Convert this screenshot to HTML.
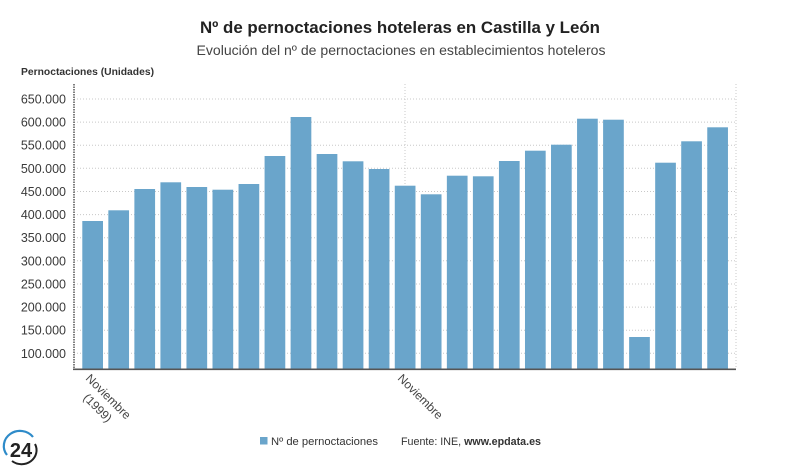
<!DOCTYPE html>
<html><head><meta charset="utf-8"><style>
html,body{margin:0;padding:0;background:#fff;}
svg{display:block;}
text{font-family:"Liberation Sans",Arial,sans-serif;}
</style></head><body>
<svg width="800" height="470" viewBox="0 0 800 470" xmlns="http://www.w3.org/2000/svg">
<rect width="800" height="470" fill="#fff"/>
<text x="400" y="33" text-anchor="middle" font-size="16.5" font-weight="bold" fill="#222" textLength="400" lengthAdjust="spacingAndGlyphs">Nº de pernoctaciones hoteleras en Castilla y León</text>
<text x="401" y="55" text-anchor="middle" font-size="13.5" fill="#444" textLength="409" lengthAdjust="spacingAndGlyphs">Evolución del nº de pernoctaciones en establecimientos hoteleros</text>
<text x="21" y="75" font-size="10" font-weight="bold" fill="#333" textLength="133" lengthAdjust="spacingAndGlyphs">Pernoctaciones (Unidades)</text>
<g stroke="#c8c8c8" stroke-width="1" stroke-dasharray="1,2">
<line x1="74" x2="736" y1="99" y2="99"/>
<line x1="74" x2="736" y1="122.1" y2="122.1"/>
<line x1="74" x2="736" y1="145.2" y2="145.2"/>
<line x1="74" x2="736" y1="168.3" y2="168.3"/>
<line x1="74" x2="736" y1="191.5" y2="191.5"/>
<line x1="74" x2="736" y1="214.6" y2="214.6"/>
<line x1="74" x2="736" y1="237.7" y2="237.7"/>
<line x1="74" x2="736" y1="260.8" y2="260.8"/>
<line x1="74" x2="736" y1="284" y2="284"/>
<line x1="74" x2="736" y1="307.1" y2="307.1"/>
<line x1="74" x2="736" y1="330.2" y2="330.2"/>
<line x1="74" x2="736" y1="353.3" y2="353.3"/>
<line x1="405" x2="405" y1="84" y2="369"/>
<line x1="736" x2="736" y1="84" y2="369"/>
</g>
<g font-size="12.5" fill="#3a3a3a" text-anchor="end">
<text x="66" y="103.5">650.000</text>
<text x="66" y="126.6">600.000</text>
<text x="66" y="149.7">550.000</text>
<text x="66" y="172.8">500.000</text>
<text x="66" y="196">450.000</text>
<text x="66" y="219.1">400.000</text>
<text x="66" y="242.2">350.000</text>
<text x="66" y="265.3">300.000</text>
<text x="66" y="288.5">250.000</text>
<text x="66" y="311.6">200.000</text>
<text x="66" y="334.7">150.000</text>
<text x="66" y="357.8">100.000</text>
</g>
<g fill="#6aa5cb">
<rect x="82.3" y="221" width="20.7" height="148"/>
<rect x="108.34" y="210.3" width="20.7" height="158.7"/>
<rect x="134.38" y="189" width="20.7" height="180"/>
<rect x="160.42" y="182.3" width="20.7" height="186.7"/>
<rect x="186.46" y="187" width="20.7" height="182"/>
<rect x="212.5" y="189.7" width="20.7" height="179.3"/>
<rect x="238.54" y="184" width="20.7" height="185"/>
<rect x="264.58" y="156" width="20.7" height="213"/>
<rect x="290.62" y="117" width="20.7" height="252"/>
<rect x="316.66" y="154" width="20.7" height="215"/>
<rect x="342.7" y="161.3" width="20.7" height="207.7"/>
<rect x="368.74" y="169" width="20.7" height="200"/>
<rect x="394.78" y="185.7" width="20.7" height="183.3"/>
<rect x="420.82" y="194.3" width="20.7" height="174.7"/>
<rect x="446.86" y="175.7" width="20.7" height="193.3"/>
<rect x="472.9" y="176.3" width="20.7" height="192.7"/>
<rect x="498.94" y="161" width="20.7" height="208"/>
<rect x="524.98" y="150.7" width="20.7" height="218.3"/>
<rect x="551.02" y="144.7" width="20.7" height="224.3"/>
<rect x="577.06" y="118.7" width="20.7" height="250.3"/>
<rect x="603.1" y="119.7" width="20.7" height="249.3"/>
<rect x="629.14" y="337" width="20.7" height="32"/>
<rect x="655.18" y="162.7" width="20.7" height="206.3"/>
<rect x="681.22" y="141.3" width="20.7" height="227.7"/>
<rect x="707.26" y="127.3" width="20.7" height="241.7"/>
</g>
<line x1="74" x2="74" y1="84" y2="369" stroke="#555" stroke-width="1.5" stroke-dasharray="1.5,1"/>
<line x1="73" x2="736" y1="369.3" y2="369.3" stroke="#555" stroke-width="1.6"/>
<g font-size="12" fill="#444">
<g transform="translate(85,379) rotate(45)">
<text x="0" y="0">Noviembre</text>
<text x="12" y="15.5">(1999)</text>
</g>
<g transform="translate(397,379) rotate(45)">
<text x="0" y="0">Noviembre</text>
</g>
</g>
<rect x="260" y="437" width="7.5" height="7.5" fill="#6aa5cb"/>
<text x="271" y="445" font-size="11" fill="#333" textLength="107" lengthAdjust="spacingAndGlyphs">Nº de pernoctaciones</text>
<text x="401" y="445" font-size="11" fill="#333" textLength="140" lengthAdjust="spacingAndGlyphs">Fuente: INE, <tspan font-weight="bold">www.epdata.es</tspan></text>
<g>
<path d="M 7 455 A 15 14 0 0 1 33 437" fill="none" stroke="#2e8bc9" stroke-width="2.2"/>
<path d="M 35 444 A 15 14 0 0 1 12 461" fill="none" stroke="#222" stroke-width="2"/>
<text x="21" y="457" text-anchor="middle" font-size="20" font-weight="bold" fill="#222">24</text>
</g>
</svg>
</body></html>
